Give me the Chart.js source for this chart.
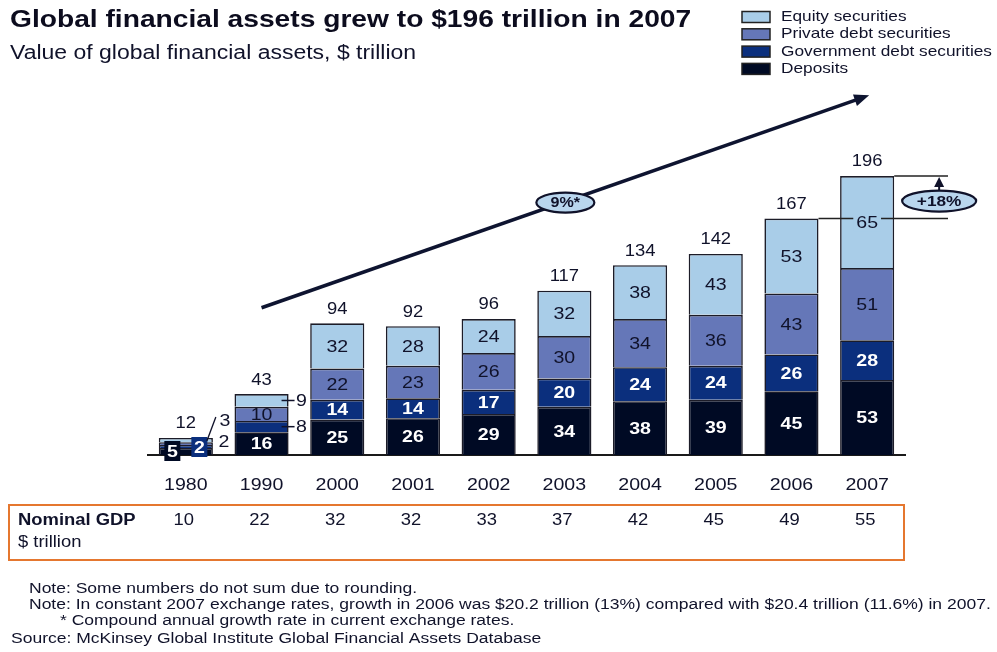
<!DOCTYPE html>
<html>
<head>
<meta charset="utf-8">
<script src="https://cdn.jsdelivr.net/npm/chart.js@4.4.1/dist/chart.umd.min.js"></script>
<style>
    html, body { margin: 0; padding: 0; background: #fff; }
    #wrap { width: 997px; height: 652px; }
</style>
</head>
<body>
<div id="wrap"><canvas id="assetsChart" width="997" height="652"></canvas></div>
<script>
// -------- DATA ($ trillion) --------
const years = ["1980", "1990", "2000", "2001", "2002", "2003", "2004", "2005", "2006", "2007"];
const deposits = [5, 16, 25, 26, 29, 34, 38, 39, 45, 53];
const governmentDebt = [2, 8, 14, 14, 17, 20, 24, 24, 26, 28];
const privateDebt = [2, 10, 22, 23, 26, 30, 34, 36, 43, 51];
const equity = [3, 9, 32, 28, 24, 32, 38, 43, 53, 65];
const totals = [12, 43, 94, 92, 96, 117, 134, 142, 167, 196];
const nominalGdp = [10, 22, 32, 32, 33, 37, 42, 45, 49, 55];

const cagrLabel = "9%*";
const lastYearGrowth = "+18%";

const footnotes = [
    "Note: Some numbers do not sum due to rounding.",
    "Note: In constant 2007 exchange rates, growth in 2006 was $20.2 trillion (13%) compared with $20.4 trillion (11.6%) in 2007.",
    "* Compound annual growth rate in current exchange rates.",
    "Source: McKinsey Global Institute Global Financial Assets Database"
];

// -------- STYLE --------
const FONT = '"Liberation Sans", Arial, sans-serif';
const INK = "#10122a";
const SX = 1.15;   // type in this chart is set a little wide
const COLORS = {
    equity: "#a9cde8",
    private: "#6577b8",
    government: "#0b2f7d",
    deposits: "#000a24"
};

function drawText(ctx, str, x, y, size, opts = {}) {
    ctx.save();
    ctx.font = (opts.bold ? "bold " : "") + size + "px " + FONT;
    ctx.fillStyle = opts.color || INK;
    ctx.textBaseline = "middle";
    ctx.textAlign = opts.align || "center";
    ctx.translate(x, y);
    ctx.scale(opts.sx || SX, 1);
    ctx.fillText(str, 0, 0);
    ctx.restore();
}

function textWidth(ctx, str, size, bold) {
    ctx.save();
    ctx.font = (bold ? "bold " : "") + size + "px " + FONT;
    const w = ctx.measureText(str).width * SX;
    ctx.restore();
    return w;
}

function line(ctx, x1, y1, x2, y2, width, color) {
    ctx.save();
    ctx.beginPath();
    ctx.moveTo(x1, y1);
    ctx.lineTo(x2, y2);
    ctx.lineWidth = width;
    ctx.strokeStyle = color || INK;
    ctx.stroke();
    ctx.restore();
}

function ellipseLabel(ctx, str, cx, cy, rx, ry, size) {
    ctx.save();
    ctx.beginPath();
    ctx.ellipse(cx, cy, rx, ry, 0, 0, Math.PI * 2);
    ctx.fillStyle = "#b9d6ee";
    ctx.fill();
    ctx.lineWidth = 2.2;
    ctx.strokeStyle = INK;
    ctx.stroke();
    ctx.restore();
    drawText(ctx, str, cx, cy + 1, size, { bold: true });
}

// -------- ANNOTATIONS --------
const annotations = {
    id: "annotations",
    afterDraw(chart) {
        const ctx = chart.ctx;
        const x = chart.scales.x;
        const y = chart.scales.y;
        const metas = [0, 1, 2, 3].map(d => chart.getDatasetMeta(d));
        const topMeta = metas[3];

        // title block
        drawText(ctx, "Global financial assets grew to $196 trillion in 2007", 10, 20, 24.5, { bold: true, align: "left", color: "#0c0c1e" });
        drawText(ctx, "Value of global financial assets, $ trillion", 10, 53, 20, { align: "left" });

        // legend, top right
        const legendItems = [
            ["Equity securities", COLORS.equity],
            ["Private debt securities", COLORS.private],
            ["Government debt securities", COLORS.government],
            ["Deposits", COLORS.deposits]
        ];
        legendItems.forEach((item, k) => {
            const cy = 17 + k * 17.3;
            ctx.fillStyle = item[1];
            ctx.fillRect(742, cy - 5.5, 28, 11);
            ctx.lineWidth = 1.5;
            ctx.strokeStyle = "#222";
            ctx.strokeRect(742, cy - 5.5, 28, 11);
            drawText(ctx, item[0], 781, cy, 15, { align: "left" });
        });

        // year labels under the baseline
        years.forEach((yr, i) => {
            drawText(ctx, yr, x.getPixelForValue(i), y.bottom + 30, 17);
        });

        // segment labels
        const light = [false, false, true, true];   // deposits, gov, private, equity
        metas.forEach((meta, d) => {
            const values = chart.data.datasets[d].data;
            meta.data.forEach((el, i) => {
                if (i < 2) return;
                const cy = (el.y + el.base) / 2;
                drawText(ctx, String(values[i]), el.x, cy + 1, 17, {
                    bold: !light[d],
                    color: light[d] ? INK : "#ffffff"
                });
            });
        });

        // 1990: inside labels for the two larger pieces, callouts for the rest
        const b90 = 1;
        const m90 = metas.map(m => m.data[b90]);
        const cx90 = m90[0].x;
        drawText(ctx, String(deposits[b90]), cx90, (m90[0].y + m90[0].base) / 2 + 1, 17, { bold: true, color: "#fff" });
        drawText(ctx, String(privateDebt[b90]), cx90, (m90[2].y + m90[2].base) / 2 + 1, 17);
        [[1, governmentDebt[b90]], [3, equity[b90]]].forEach(([d, v]) => {
            const cy = (m90[d].y + m90[d].base) / 2;
            line(ctx, cx90 + 20, cy, cx90 + 33, cy, 1.5);
            drawText(ctx, String(v), cx90 + 40, cy + 1, 17);
        });

        // 1980: boxed labels for deposits and government debt, callouts for the rest
        const m80 = metas.map(m => m.data[0]);
        const cx80 = m80[0].x;
        const boxed = [[0, deposits[0], -13.5, 451], [1, governmentDebt[0], 13.5, 447]];
        boxed.forEach(([d, v, dx, cy]) => {
            ctx.fillStyle = d === 0 ? COLORS.deposits : COLORS.government;
            ctx.fillRect(cx80 + dx - 8, cy - 10, 16, 20);
            drawText(ctx, String(v), cx80 + dx, cy + 1, 17, { bold: true, color: "#fff" });
        });
        drawText(ctx, String(privateDebt[0]), cx80 + 38, 442, 17);
        line(ctx, cx80 + 21, m80[3].y + 3, cx80 + 30, 417, 1.3);
        drawText(ctx, String(equity[0]), cx80 + 39, 421, 17);

        // totals above bars
        topMeta.data.forEach((el, i) => {
            drawText(ctx, String(totals[i]), el.x, el.y - 14, 16);
        });

        // 2006 -> 2007 step with +18% callout
        const bar06 = topMeta.data[8];
        const bar07 = topMeta.data[9];
        const y06 = y.getPixelForValue(totals[8]);
        const y07 = bar07.y;
        const rightEnd = 948;
        line(ctx, bar06.x + bar06.width / 2, y06, rightEnd, y06, 1.5, "#222");
        line(ctx, bar07.x + bar07.width / 2, y07, rightEnd, y07, 1.5, "#222");
        // keep the 2007 equity value readable over the step line
        const cy65 = (bar07.y + bar07.base) / 2 + 1;
        const w65 = textWidth(ctx, String(equity[9]), 17);
        ctx.fillStyle = COLORS.equity;
        ctx.fillRect(bar07.x - w65 / 2 - 3, cy65 - 9, w65 + 6, 17);
        drawText(ctx, String(equity[9]), bar07.x, cy65, 17);

        const gx = bar07.x + 72;
        ctx.save();
        ctx.beginPath();
        ctx.moveTo(gx, y07 + 1);
        ctx.lineTo(gx - 5, y07 + 11);
        ctx.lineTo(gx + 5, y07 + 11);
        ctx.closePath();
        ctx.fillStyle = INK;
        ctx.fill();
        ctx.restore();
        line(ctx, gx, y07 + 10, gx, y07 + 16, 2);
        ellipseLabel(ctx, lastYearGrowth, gx, y07 + 25, 37, 10.5, 15);

        // long-run growth arrow
        const ax1 = x.getPixelForValue(1), ay1 = y.getPixelForValue(104);
        const ax2 = x.getPixelForValue(9) + 2, ay2 = y.getPixelForValue(254);
        const ang = Math.atan2(ay2 - ay1, ax2 - ax1);
        line(ctx, ax1, ay1, ax2 - 10 * Math.cos(ang), ay2 - 10 * Math.sin(ang), 3.5, "#0e1430");
        ctx.save();
        ctx.translate(ax2, ay2);
        ctx.rotate(ang);
        ctx.beginPath();
        ctx.moveTo(0, 0);
        ctx.lineTo(-15, -6);
        ctx.lineTo(-15, 6);
        ctx.closePath();
        ctx.fillStyle = "#0e1430";
        ctx.fill();
        ctx.restore();
        ellipseLabel(ctx, cagrLabel, (ax1 + ax2) / 2, (ay1 + ay2) / 2 + 1, 29, 10, 14);

        // nominal GDP row
        ctx.save();
        ctx.lineWidth = 2;
        ctx.strokeStyle = "#e5772f";
        ctx.strokeRect(9, 505, 895, 55);
        ctx.restore();
        drawText(ctx, "Nominal GDP", 18, 521, 16, { bold: true, align: "left" });
        drawText(ctx, "$ trillion", 18, 543, 16, { align: "left" });
        nominalGdp.forEach((v, i) => {
            drawText(ctx, String(v), x.getPixelForValue(i) - 2, 521, 16);
        });

        // footnotes, narrow type set wide
        const fn = { align: "left", sx: 1.25 };
        drawText(ctx, footnotes[0], 29, 589, 14, fn);
        drawText(ctx, footnotes[1], 29, 605, 14, fn);
        drawText(ctx, footnotes[2], 60, 621, 14, fn);
        drawText(ctx, footnotes[3], 11, 639, 14, fn);
    }
};

// -------- CHART --------
const barStyle = {
    borderColor: "#1c1c28",
    borderWidth: 1.6,
    barPercentage: 0.715,
    categoryPercentage: 1
};

const ctx = document.getElementById("assetsChart").getContext("2d");

new Chart(ctx, {
    type: "bar",
    data: {
        labels: years,
        datasets: [
            { label: "Deposits", data: deposits, backgroundColor: COLORS.deposits, ...barStyle },
            { label: "Government debt securities", data: governmentDebt, backgroundColor: COLORS.government, ...barStyle },
            { label: "Private debt securities", data: privateDebt, backgroundColor: COLORS.private, ...barStyle },
            { label: "Equity securities", data: equity, backgroundColor: COLORS.equity, ...barStyle }
        ]
    },
    options: {
        responsive: false,
        animation: false,
        layout: { padding: { left: 148, right: 92, top: 101, bottom: 157 } },
        scales: {
            x: {
                stacked: true,
                grid: { display: false, drawTicks: false },
                border: { display: true, color: "#1a1a1a", width: 2 },
                ticks: { display: false },
                afterFit: scale => { scale.height = 40; }
            },
            y: {
                stacked: true,
                display: false,
                min: 0,
                max: 250
            }
        },
        plugins: {
            legend: { display: false },
            tooltip: { enabled: false }
        }
    },
    plugins: [annotations]
});
</script>
</body>
</html>
